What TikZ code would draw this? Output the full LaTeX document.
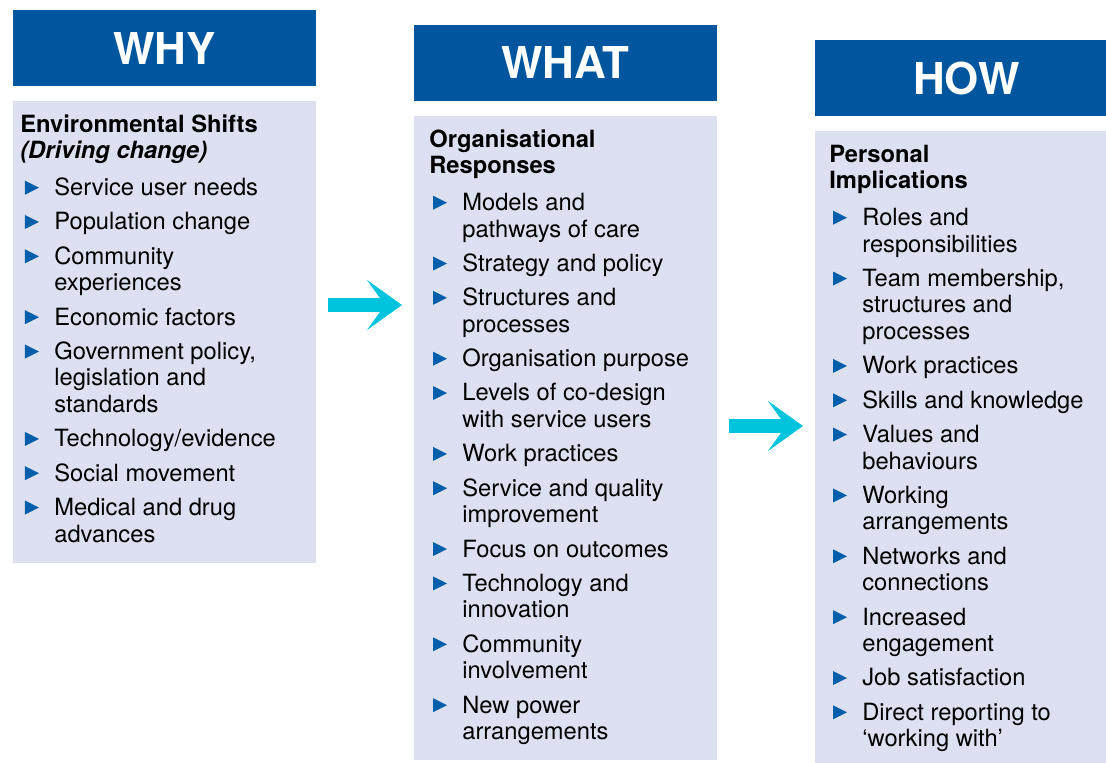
\documentclass[tikz,border=0pt]{standalone}
\usepackage{fontspec}
\setmainfont{TeX Gyre Heros}
\usetikzlibrary{positioning,arrows.meta}

\definecolor{headerblue}{RGB}{0,86,158}
\definecolor{panellilac}{RGB}{221,224,240}
\definecolor{bulletblue}{RGB}{0,94,170}
\definecolor{flowcyan}{RGB}{0,196,222}

\begin{document}
\begin{tikzpicture}[
  x=0.02cm, y=-0.02cm,
  header/.style={
    fill=headerblue,
    text=white,
    minimum width=6.06cm,
    minimum height=1.52cm,
    inner sep=0pt,
    font=\fontsize{25}{29}\selectfont\bfseries
  },
  panel/.style={
    fill=panellilac,
    anchor=north west,
    minimum width=6.06cm,
    inner sep=0pt
  },
  heading/.style={
    anchor=north west,
    align=left,
    inner sep=0pt,
    font=\fontsize{13.5}{15.1}\selectfont\bfseries
  },
  item/.style={
    anchor=north west,
    align=left,
    inner sep=0pt,
    font=\fontsize{13.5}{15.1}\selectfont
  },
  bullet/.style={fill=bulletblue},
  flow/.style={
    draw=flowcyan,
    line width=0.28cm,
    shorten <=0.22cm,
    shorten >=0.24cm,
    -{Stealth[length=0.7cm, width=1cm, inset=0.36cm]}
  }
]
\clip (0,0) rectangle (1106,762);

% columns
\node[panel, minimum height=9.24cm] (why-panel) at (13,101) {};
\node[panel, minimum height=12.88cm] (what-panel) at (414,116) {};
\node[panel, minimum height=12.8cm] (how-panel) at (815,131) {};

\node[header] (why-head) at (164.5,48) {WHY};
\node[header] (what-head) at (565.5,62.5) {WHAT};
\node[header] (how-head) at (966.5,78) {HOW};

\node[heading] (why-title) at (20,113.4) {\strut Environmental Shifts\\\textit{(Driving change)}\strut};
\node[heading] (what-title) at (429,128.4) {\strut Organisational\\Responses\strut};
\node[heading] (how-title) at (829,143.4) {\strut Personal\\Implications\strut};

% bullet lists
\foreach \txt [count=\i, remember=\i as \j (initially 0)] in {
  Service user needs, Population change, {Community\\experiences},
  Economic factors, {Government policy,\\legislation and\\standards},
  Technology/evidence, Social movement, {Medical and drug\\advances}} {
  \ifnum\i=1
    \node[below right=0.19cm and 0.68cm of why-title.south west, item] (why-\i) {\strut\txt\strut};
  \else
    \node[below right=0.142cm and 0cm of why-\j.south west, item] (why-\i) {\strut\txt\strut};
  \fi
  \fill[bullet] ([xshift=-0.58cm, yshift=-0.08cm]why-\i.north west) -- ++(14,7) -- ++(-14,7) -- cycle;
}

\foreach \txt [count=\i, remember=\i as \j (initially 0)] in {
  {Models and\\pathways of care}, Strategy and policy, {Structures and\\processes},
  Organisation purpose, {Levels of co-design\\with service users}, Work practices,
  {Service and quality\\improvement}, Focus on outcomes, {Technology and\\innovation},
  {Community\\involvement}, {New power\\arrangements}} {
  \ifnum\i=1
    \node[below right=0.19cm and 0.66cm of what-title.south west, item] (what-\i) {\strut\txt\strut};
  \else
    \node[below right=0.142cm and 0cm of what-\j.south west, item] (what-\i) {\strut\txt\strut};
  \fi
  \fill[bullet] ([xshift=-0.58cm, yshift=-0.08cm]what-\i.north west) -- ++(14,7) -- ++(-14,7) -- cycle;
}

\foreach \txt [count=\i, remember=\i as \j (initially 0)] in {
  {Roles and\\responsibilities}, {Team membership,\\structures and\\processes},
  Work practices, Skills and knowledge, {Values and\\behaviours},
  {Working\\arrangements}, {Networks and\\connections}, {Increased\\engagement},
  Job satisfaction, {Direct reporting to\\‘working with’}} {
  \ifnum\i=1
    \node[below right=0.19cm and 0.66cm of how-title.south west, item] (how-\i) {\strut\txt\strut};
  \else
    \node[below right=0.142cm and 0cm of how-\j.south west, item] (how-\i) {\strut\txt\strut};
  \fi
  \fill[bullet] ([xshift=-0.58cm, yshift=-0.08cm]how-\i.north west) -- ++(14,7) -- ++(-14,7) -- cycle;
}

% arrows between columns
\draw[flow] (why-panel.east |- 0,305) -- (what-panel.west |- 0,305);
\draw[flow] (what-panel.east |- 0,426) -- (how-panel.west |- 0,426);
\end{tikzpicture}
\end{document}
